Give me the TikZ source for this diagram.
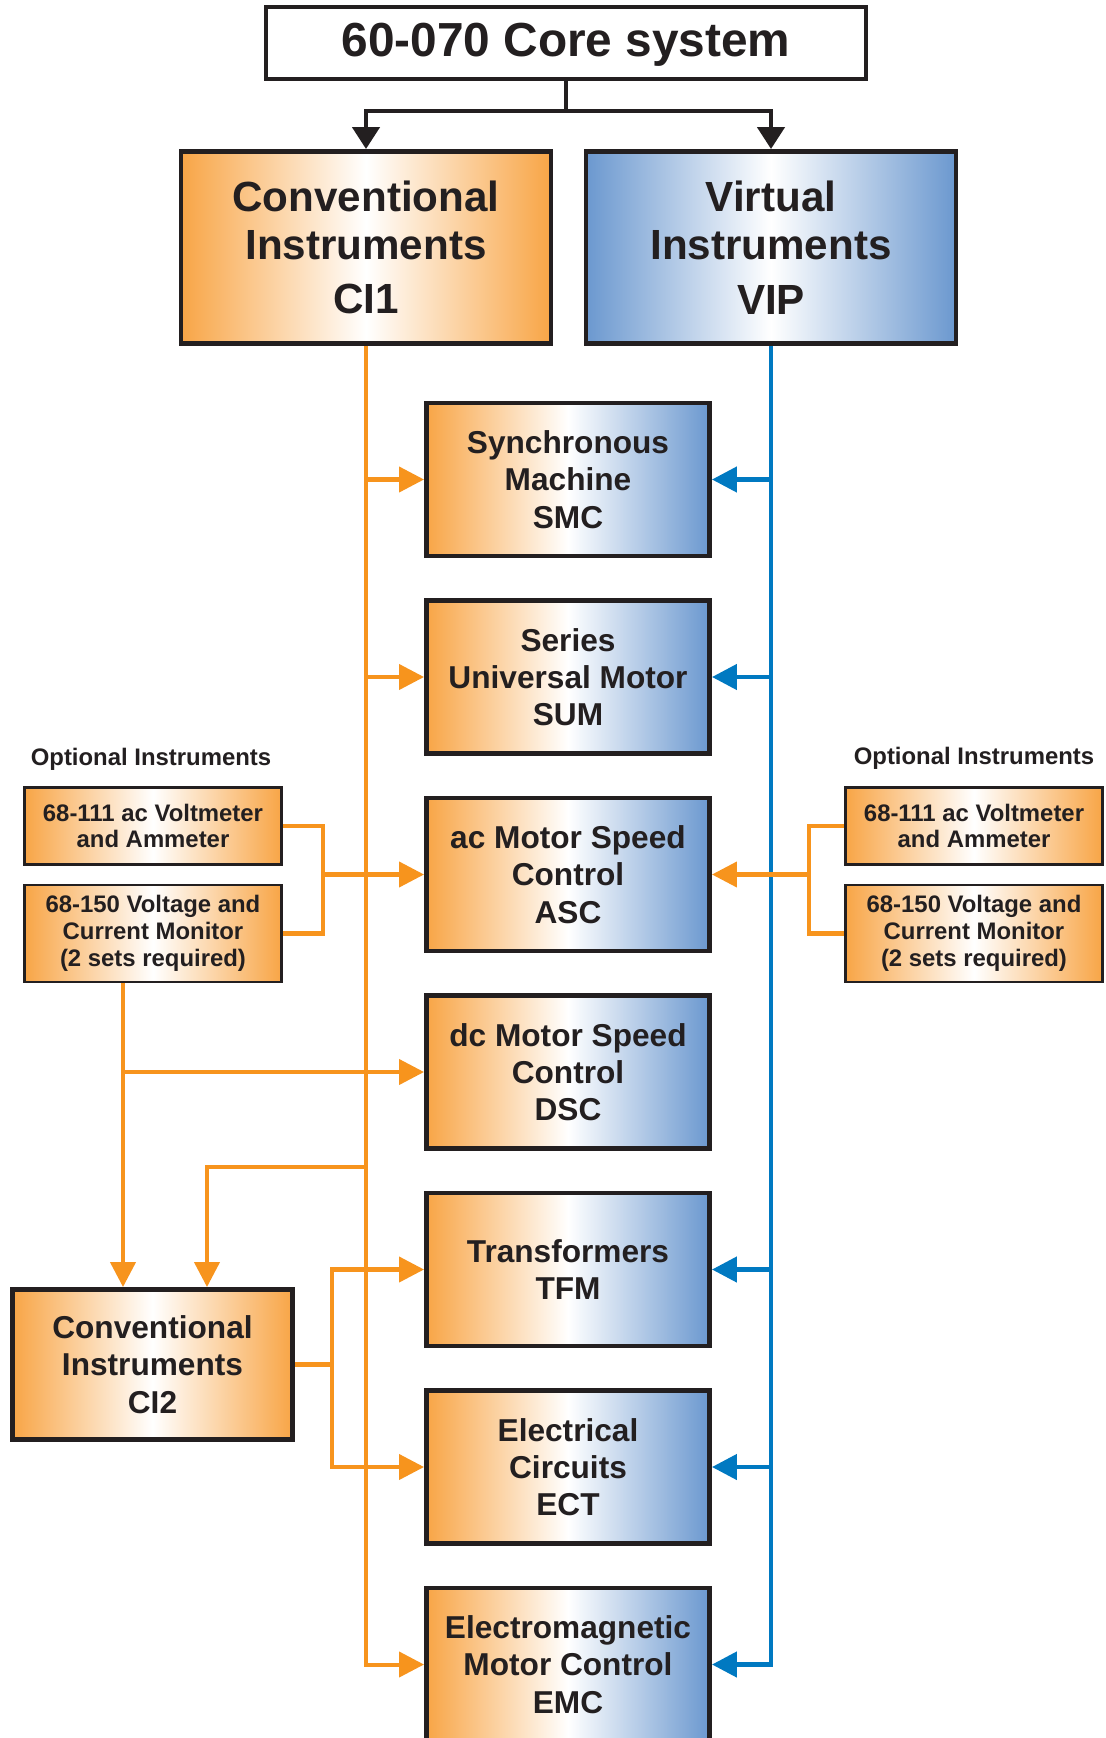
\documentclass[tikz,border=0pt]{standalone}
\usepackage{fontspec}
\setmainfont{Liberation Sans}
\usetikzlibrary{arrows.meta}

\definecolor{boxorange}{RGB}{248,165,70}
\definecolor{boxblue}{RGB}{107,152,207}
\definecolor{lineorange}{RGB}{247,148,29}
\definecolor{lineblue}{RGB}{0,121,193}
\definecolor{boxline}{RGB}{35,31,32}

\tikzset{
	module/.style={shape=rectangle, draw=boxline, line width=1.4pt, text=boxline,
		left color=boxorange, right color=boxblue, middle color=white,
		minimum width=2.83cm, minimum height=1.53cm, inner sep=0pt, align=center,
		font=\fontsize{9}{10.6}\selectfont\bfseries},
	cibox/.style={shape=rectangle, draw=boxline, line width=1.4pt, text=boxline,
		left color=boxorange, right color=boxorange, middle color=white,
		inner sep=0pt, align=center},
	optbox/.style={shape=rectangle, draw=boxline, line width=0.8pt, text=boxline,
		left color=boxorange, right color=boxorange, middle color=white,
		minimum width=2.57cm, inner sep=0pt, align=center,
		font=\fontsize{6.8}{7.6}\selectfont\bfseries},
	optlabel/.style={text=boxline, font=\fontsize{6.8}{7.6}\selectfont\bfseries},
	oline/.style={draw=lineorange, line width=1.15pt},
	oarrow/.style={oline, -{Triangle[length=0.25cm,width=0.25cm]}},
	barrow/.style={draw=lineblue, line width=1.3pt, -{Triangle[length=0.25cm,width=0.25cm]}},
	karrow/.style={draw=boxline, line width=1.3pt, -{Triangle[length=0.22cm,width=0.27cm]}},
}

\begin{document}
\begin{tikzpicture}
	\useasboundingbox (0,0) rectangle (11.05,-17.38);
	
	% top of the tree
	\node[shape=rectangle, draw=boxline, line width=1.3pt, fill=white, text=boxline,
		minimum width=6.0cm, minimum height=0.72cm, text height=10.6pt, text depth=2.9pt,
		font=\fontsize{13.6}{16}\selectfont\bfseries] (core) at (5.66,-0.43) {60-070 Core system};
	\node[cibox, minimum width=3.70cm, minimum height=1.92cm, font=\fontsize{12}{13.6}\selectfont\bfseries] (ci1) at (3.66,-2.475) {Conventional\\Instruments\\[2pt]CI1};
	\node[cibox, left color=boxblue, right color=boxblue, middle color=white, minimum width=3.70cm, minimum height=1.92cm, font=\fontsize{12}{13.6}\selectfont\bfseries] (vip) at (7.71,-2.475) {Virtual\\Instruments\\[2pt]VIP};
	
	\coordinate (split) at (5.66,-1.11);
	\draw[draw=boxline, line width=1.3pt] (core.south) -- (split);
	\draw[karrow] (split) -| (ci1.north);
	\draw[karrow] (split) -| (vip.north);
	
	% modules
	\node[module] (smc) at (5.68,-4.795)  {Synchronous\\Machine\\SMC};
	\node[module] (sum) at (5.68,-6.77)   {Series\\Universal Motor\\SUM};
	\node[module] (asc) at (5.68,-8.745)  {ac Motor Speed\\Control\\ASC};
	\node[module] (dsc) at (5.68,-10.72)  {dc Motor Speed\\Control\\DSC};
	\node[module] (tfm) at (5.68,-12.695) {Transformers\\TFM};
	\node[module] (ect) at (5.68,-14.67)  {Electrical\\Circuits\\ECT};
	\node[module] (emc) at (5.68,-16.645) {Electromagnetic\\Motor Control\\EMC};
	
	% optional instruments
	\node[optlabel] (optl) at (1.51,-7.59) {Optional Instruments};
	\node[optbox, minimum height=0.77cm] (voltl) at (1.53,-8.26) {68-111 ac Voltmeter\\and Ammeter};
	\node[optbox, minimum height=0.97cm] (monl) at (1.53,-9.335) {68-150 Voltage and\\Current Monitor\\(2 sets required)};
	
	\node[optlabel] (optr) at (9.74,-7.58) {Optional Instruments};
	\node[optbox, minimum height=0.77cm] (voltr) at (9.74,-8.26) {68-111 ac Voltmeter\\and Ammeter};
	\node[optbox, minimum height=0.97cm] (monr) at (9.74,-9.335) {68-150 Voltage and\\Current Monitor\\(2 sets required)};
	
	\node[cibox, minimum width=2.80cm, minimum height=1.50cm, font=\fontsize{9}{10.6}\selectfont\bfseries] (ci2) at (1.525,-13.645) {Conventional\\Instruments\\CI2};
	
	% orange trunk from CI1
	\draw[oarrow] (ci1.south) |- (emc.west);
	\draw[oarrow] (ci1.south |- smc.west) -- (smc.west);
	\draw[oarrow] (ci1.south |- sum.west) -- (sum.west);
	
	% blue trunk from VIP
	\draw[barrow] (vip.south) |- (emc.east);
	\draw[barrow] (vip.south |- smc.east) -- (smc.east);
	\draw[barrow] (vip.south |- sum.east) -- (sum.east);
	\draw[barrow] (vip.south |- tfm.east) -- (tfm.east);
	\draw[barrow] (vip.south |- ect.east) -- (ect.east);
	
	% optional instruments to ASC
	\coordinate (busl) at (3.23,-8.745);
	\draw[oline] (voltl.east) -| (busl);
	\draw[oline] (monl.east) -| (busl);
	\draw[oarrow] (busl) -- (asc.west);
	
	\coordinate (busr) at (8.09,-8.745);
	\draw[oline] (voltr.west) -| (busr);
	\draw[oline] (monr.west) -| (busr);
	\draw[oarrow] (busr) -- (asc.east);
	
	% CI2 feeds
	\draw[oarrow] ([xshift=-0.3cm]monl.south) -- ([xshift=-0.3cm]monl.south |- ci2.north);
	\draw[oarrow] ([xshift=-0.3cm]monl.south |- dsc.west) -- (dsc.west);
	\draw[oarrow] (ci1.south |- 0,-11.67) -| ([xshift=0.545cm]ci2.north);
	\draw[oarrow] (ci2.east) -- ++(0.37,0) |- (tfm.west);
	\draw[oarrow] (ci2.east) -- ++(0.37,0) |- (ect.west);
	
\end{tikzpicture}
\end{document}
